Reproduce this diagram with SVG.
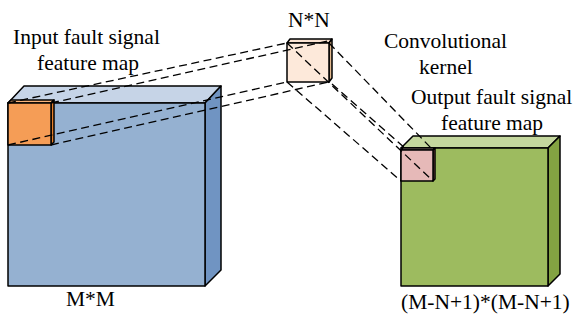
<svg xmlns="http://www.w3.org/2000/svg" width="573" height="323" viewBox="0 0 573 323">
  <style>
    .edge { stroke: #000; stroke-width: 1.5; stroke-linejoin: round; }
    .lbl { font-family: 'Liberation Serif', 'DejaVu Serif', serif; font-size: 21.5px; fill: #000; }
    .dash { fill: none; stroke: #000; stroke-width: 1.3; stroke-dasharray: 8 4.5; }
  </style>
  <rect width="573" height="323" fill="#fff"/>

  <!-- input feature map (M*M) -->
  <g id="input-map">
    <polygon class="edge" fill="#C6D4E7" points="8,103 24,86 221,86 205,103"/>
    <polygon class="edge" fill="#7094C2" points="205,103 221,86 221,270 205,286"/>
    <rect class="edge" fill="#95B1D1" x="8" y="103" width="197" height="183"/>
    <text class="lbl" x="13" y="44">Input fault signal</text>
    <text class="lbl" x="37" y="70">feature map</text>
    <text class="lbl" x="66" y="306">M*M</text>
  </g>

  <!-- receptive field on the input map -->
  <g id="input-window">
    <polygon class="edge" fill="#F9B47A" points="8,103 11,100 54,100 51,103"/>
    <polygon class="edge" fill="#E57F2A" points="51,103 54,100 54,142 51,145"/>
    <rect class="edge" fill="#F59D56" x="8" y="103" width="43" height="42"/>
  </g>

  <!-- convolution kernel (N*N) -->
  <g id="kernel">
    <polygon class="edge" fill="#FBE3D2" points="287,43 290,39 332,39 329,43"/>
    <polygon class="edge" fill="#E2B98F" points="329,43 332,39 332,78 329,82"/>
    <rect class="edge" fill="#FDE9DA" x="287" y="43" width="42" height="39"/>
    <text class="lbl" x="288" y="27">N*N</text>
    <text class="lbl" x="384" y="48">Convolutional</text>
    <text class="lbl" x="419" y="74">kernel</text>
  </g>

  <!-- output feature map ((M-N+1)*(M-N+1)) -->
  <g id="output-map">
    <polygon class="edge" fill="#C4D79E" points="401,148 413,136 560,136 548,148"/>
    <polygon class="edge" fill="#83A342" points="548,148 560,136 560,274 548,286"/>
    <rect class="edge" fill="#9DBB5F" x="401" y="148" width="147" height="138"/>
    <text class="lbl" x="411" y="104">Output fault signal</text>
    <text class="lbl" x="441" y="130">feature map</text>
    <text class="lbl" x="401" y="309">(M-N+1)*(M-N+1)</text>
  </g>

  <!-- output element -->
  <g id="output-cell">
    <polygon class="edge" fill="#EBC6C5" points="401,150 403,148 435,148 433,150"/>
    <polygon class="edge" fill="#B86B6A" points="433,150 435,148 435,179 433,181"/>
    <rect class="edge" fill="#E6B9B8" x="401" y="150" width="32" height="31"/>
  </g>

  <!-- projection lines -->
  <g id="connectors">
    <line class="dash" x1="8" y1="103" x2="287" y2="43"/>
    <line class="dash" x1="51" y1="103" x2="332" y2="40"/>
    <line class="dash" x1="8" y1="145" x2="287" y2="82"/>
    <line class="dash" x1="51" y1="145" x2="329" y2="82"/>
    <line class="dash" x1="287" y1="43" x2="433" y2="181"/>
    <line class="dash" x1="329" y1="43" x2="433" y2="150"/>
    <line class="dash" x1="287" y1="82" x2="401" y2="181"/>
    <line class="dash" x1="332" y1="84" x2="406" y2="149"/>
  </g>
</svg>
